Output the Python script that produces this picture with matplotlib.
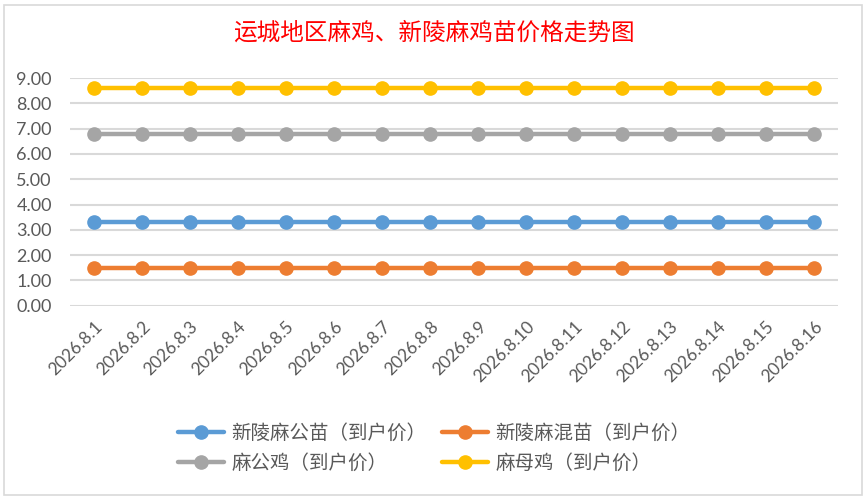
import matplotlib
matplotlib.use("Agg")
import matplotlib.pyplot as plt
from matplotlib.patches import Rectangle

dates = ["2026.8.%d" % d for d in range(1, 17)]
series_names = ["新陵麻公苗（到户价）", "新陵麻混苗（到户价）", "麻公鸡（到户价）", "麻母鸡（到户价）"]
xinling_gongmiao = [3.30] * 16
xinling_hunmiao = [1.50] * 16
ma_gongji = [6.80] * 16
ma_muji = [8.60] * 16
colors = ["#5b9bd5", "#ed7d31", "#a5a5a5", "#ffc000"]
yticks = [0, 1, 2, 3, 4, 5, 6, 7, 8, 9]

fig = plt.figure(figsize=(8.68, 5.01), dpi=100)
fig.patch.set_facecolor("white")
fig.add_artist(Rectangle((0.005, 0.012), 0.988, 0.978, transform=fig.transFigure,
                         fill=False, edgecolor="#d9d9d9", lw=1.2))

ax = fig.add_axes([0.0806, 0.3898, 0.8848, 0.4545])
x = list(range(len(dates)))
lines = []
for vals, c, name in zip([xinling_gongmiao, xinling_hunmiao, ma_gongji, ma_muji], colors, series_names):
    ln, = ax.plot(x, vals, color=c, lw=3.2, marker="o", markersize=9.5, label=name,
                  solid_capstyle="round", zorder=3)
    lines.append(ln)

ax.set_xlim(-0.5, len(dates) - 0.5)
ax.set_ylim(0, 9)
ax.set_yticks(yticks)
ax.set_yticklabels(["%.2f" % v for v in yticks], fontsize=13, color="#595959", family="Lato")
ax.set_xticks(x)
ax.set_xticklabels(dates, rotation=45, ha="right", va="top", rotation_mode="anchor",
                   fontsize=12.5, color="#595959", family="Lato")
ax.tick_params(axis="both", length=0)
ax.tick_params(axis="x", pad=9)
ax.tick_params(axis="y", pad=13)
for s in ax.spines.values():
    s.set_visible(False)
ax.grid(axis="y", color="#d9d9d9", lw=1.5)
ax.set_axisbelow(True)

fig.text(0.5, 1 - 33 / 501, "运城地区麻鸡、新陵麻鸡苗价格走势图", ha="center", va="center",
         color="#ff0000", fontsize=17, family=["Noto Sans CJK SC", "DejaVu Sans"])

order = [0, 2, 1, 3]
leg = fig.legend([lines[i] for i in order], [series_names[i] for i in order],
                 loc="center", bbox_to_anchor=(0.5, 1 - 448 / 501), ncol=2, frameon=False,
                 prop={"family": ["Noto Sans CJK SC", "DejaVu Sans"], "size": 14},
                 handlelength=2.4, columnspacing=0.8, labelspacing=0.45, handletextpad=0.35)
for t in leg.get_texts():
    t.set_color("#595959")

fig.savefig("out.png", dpi=100, facecolor="white")
